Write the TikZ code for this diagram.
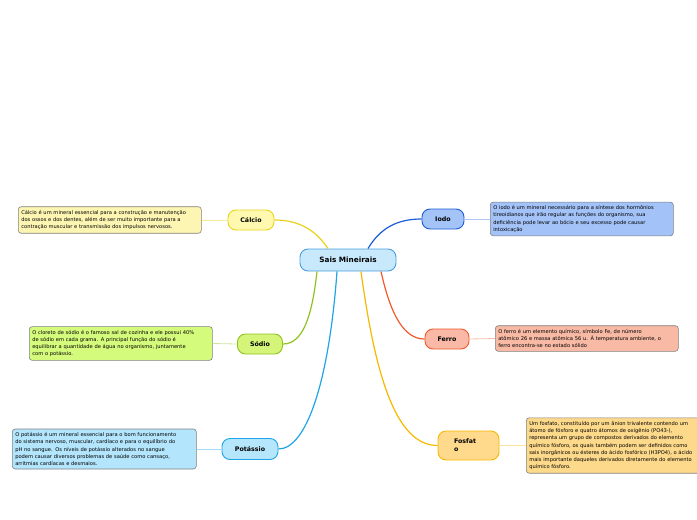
\documentclass[tikz,border=0pt]{standalone}
\usepackage{fontspec}
\setmainfont{DejaVu Sans}

\definecolor{centralfill}{HTML}{C7E9FB}
\definecolor{centralline}{HTML}{4A9EE0}
\definecolor{calciofill}{HTML}{FFF9B0}
\definecolor{calcioline}{HTML}{E8D21A}
\definecolor{calcionote}{HTML}{FDF6B3}
\definecolor{sodiofill}{HTML}{D4F57A}
\definecolor{sodioline}{HTML}{8FC31F}
\definecolor{sodionote}{HTML}{D5FB7C}
\definecolor{potassiofill}{HTML}{B5E6FB}
\definecolor{potassioline}{HTML}{1EA5E8}
\definecolor{potassionote}{HTML}{B3E5FC}
\definecolor{iodofill}{HTML}{A4C4F8}
\definecolor{iodoline}{HTML}{1B5CD9}
\definecolor{iodonote}{HTML}{A3C2F7}
\definecolor{ferrofill}{HTML}{F9B9A6}
\definecolor{ferroline}{HTML}{F2582B}
\definecolor{ferronote}{HTML}{F8BAA5}
\definecolor{fosfatofill}{HTML}{FFD98C}
\definecolor{fosfatoline}{HTML}{F6B800}
\definecolor{fosfatonote}{HTML}{FDD98B}

\begin{document}
\begin{tikzpicture}[x=1pt, y=-1pt,
  topic/.style={draw, line width=0.9pt, rounded corners=8pt, inner sep=2pt,
    minimum height=20pt, font=\fontsize{6.3}{8}\selectfont\bfseries},
  note/.style={draw=black!50, line width=0.6pt, rounded corners=3pt, anchor=west,
    align=left, inner xsep=3pt, inner ysep=3.5pt, font=\fontsize{5.15}{7.2}\selectfont},
  branch/.style={line width=1.2pt},
  twig/.style={line width=0.8pt}]
  \useasboundingbox (0,0) rectangle (697,520);
  \clip (0,0) rectangle (697,520);

  % central topic
  \node[topic, fill=centralfill, draw=centralline, minimum width=96pt, minimum height=22pt,
    font=\fontsize{7.3}{9}\selectfont\bfseries] (central) at (348,260) {Sais Mineirais};

  % topics
  \node[topic, fill=calciofill, draw=calcioline, minimum width=46pt] (calcio) at (251,220) {Cálcio};
  \node[topic, fill=sodiofill, draw=sodioline, minimum width=45pt] (sodio) at (260,344) {Sódio};
  \node[topic, fill=potassiofill, draw=potassioline, minimum width=56pt, minimum height=21pt] (potassio) at (250,449) {Potássio};
  \node[topic, fill=iodofill, draw=iodoline, minimum width=42pt] (iodo) at (443,219) {Iodo};
  \node[topic, fill=ferrofill, draw=ferroline, minimum width=44pt] (ferro) at (447,339) {Ferro};
  \node[topic, fill=fosfatofill, draw=fosfatoline, minimum width=61pt, minimum height=29pt,
    text width=29pt, inner xsep=16pt, align=left] (fosfato) at (468.5,445.5) {Fosfat\\o};

  % notes
  \node[note, fill=calcionote, text width=177pt] (calcioNote) at (18,220)
    {Cálcio é um mineral essencial para a construção e manutenção\\dos ossos e dos dentes, além de ser muito importante para a\\contração muscular e transmissão dos impulsos nervosos.};
  \node[note, fill=sodionote, text width=177pt] (sodioNote) at (29,343.5)
    {O cloreto de sódio é o famoso sal de cozinha e ele possui 40\%\\de sódio em cada grama. A principal função do sódio é\\equilibrar a quantidade de água no organismo, juntamente\\com o potássio.};
  \node[note, fill=potassionote, text width=178pt] (potassioNote) at (12,449)
    {O potássio é um mineral essencial para o bom funcionamento\\do sistema nervoso, muscular, cardíaco e para o equilíbrio do\\pH no sangue. Os níveis de potássio alterados no sangue\\podem causar diversos problemas de saúde como cansaço,\\arritmias cardíacas e desmaios.};
  \node[note, fill=iodonote, text width=177pt] (iodoNote) at (490,219)
    {O iodo é um mineral necessário para a síntese dos hormônios\\tireoidianos que irão regular as funções do organismo, sua\\deficiência pode levar ao bócio e seu excesso pode causar\\intoxicação};
  \node[note, fill=ferronote, text width=177pt] (ferroNote) at (495,338.5)
    {O ferro é um elemento químico, símbolo Fe, de número\\atômico 26 e massa atômica 56 u. À temperatura ambiente, o\\ferro encontra-se no estado sólido};
  \node[note, fill=fosfatonote, text width=185pt] (fosfatoNote) at (526,445.5)
    {Um fosfato, constituído por um ânion trivalente contendo um\\átomo de fósforo e quatro átomos de oxigênio (PO43-),\\representa um grupo de compostos derivados do elemento\\químico fósforo, os quais também podem ser definidos como\\sais inorgânicos ou ésteres do ácido fosfórico (H3PO4), o ácido\\mais importante daqueles derivados diretamente do elemento\\químico fósforo.};

  % branches
  \draw[branch, calcioline] ([xshift=-20pt]central.north) .. controls +(-12,-18) and +(25,0) .. (calcio.east);
  \draw[branch, iodoline] ([xshift=20pt]central.north) .. controls +(12,-20) and +(-25,0) .. (iodo.west);
  \draw[branch, sodioline] ([xshift=-31pt]central.south) .. controls +(-5,45) and +(20,0) .. (sodio.east);
  \draw[branch, potassioline] ([xshift=-11pt]central.south) .. controls +(-8,110) and +(28,0) .. (potassio.east);
  \draw[branch, fosfatoline] ([xshift=13pt]central.south) .. controls +(15,110) and +(-40,0) .. (fosfato.west);
  \draw[branch, ferroline] ([xshift=33pt]central.south) .. controls +(10,45) and +(-20,0) .. (ferro.west);

  % twigs
  \draw[twig, calcioline!45] (calcio.west) -- (calcioNote.east);
  \draw[twig, sodioline!45] (sodio.west) -- (sodioNote.east);
  \draw[twig, potassioline!40] (potassio.west) -- (potassioNote.east);
  \draw[twig, iodoline!35] (iodo.east) -- (iodoNote.west);
  \draw[twig, ferroline!40] (ferro.east) -- (ferroNote.west);
  \draw[twig, fosfatoline!40] (fosfato.east) -- (fosfatoNote.west);
\end{tikzpicture}
\end{document}
